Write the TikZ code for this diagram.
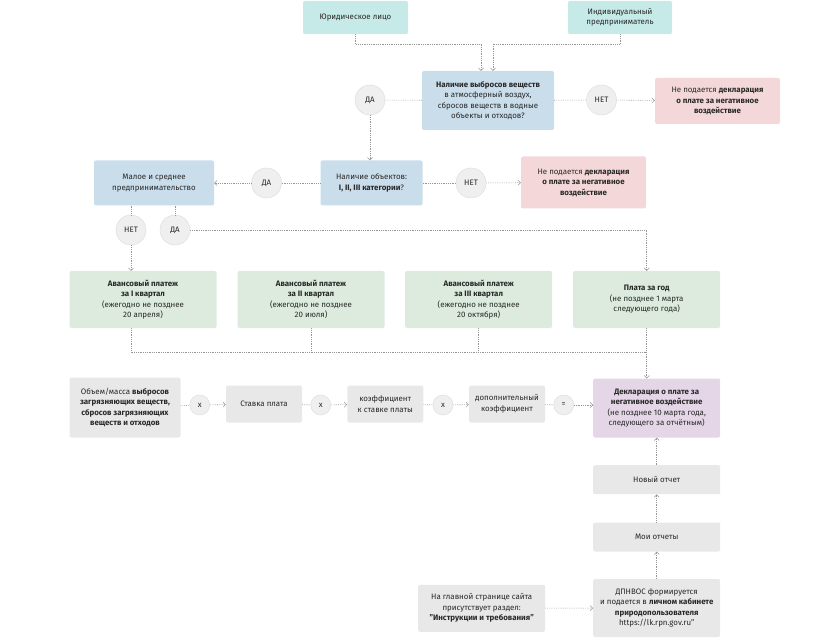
\documentclass[tikz,border=0pt]{standalone}
\usepackage{fontspec}
\setmainfont{Fira Sans}
\usetikzlibrary{arrows.meta}

\definecolor{tuerkis}{RGB}{198,234,231}
\definecolor{hellblau}{RGB}{201,221,235}
\definecolor{rosa}{RGB}{244,216,217}
\definecolor{hellgruen}{RGB}{220,235,222}
\definecolor{hellgrau}{RGB}{232,232,232}
\definecolor{flieder}{RGB}{228,214,231}
\definecolor{kreisfill}{RGB}{239,239,239}
\definecolor{kreisrand}{RGB}{222,222,222}
\definecolor{linienfarbe}{RGB}{150,150,150}
\definecolor{schrift}{RGB}{40,40,40}

\tikzset{
    kasten/.style={rounded corners=2pt, align=center, inner sep=2pt, text=schrift,
        font=\fontsize{7.9}{10.5}\selectfont},
    kreis/.style={circle, fill=kreisfill, draw=kreisrand, line width=0.5pt, minimum size=30pt,
        inner sep=0pt, text=schrift, font=\fontsize{7.9}{9}\selectfont},
    kleinkreis/.style={kreis, minimum size=20pt},
    linie/.style={draw=linienfarbe, line width=0.6pt, dash pattern=on 0.7pt off 1.1pt},
    pfeil/.style={linie, -{Straight Barb[length=2.5pt, width=5pt, line width=0.5pt]}}
}

\begin{document}
\begin{tikzpicture}[x=1pt, y=-1pt]
    \useasboundingbox (0,0) rectangle (825,639);
    \path node[kasten, fill=tuerkis, minimum width=105pt, minimum height=33pt] (jur) at (355.5,17.5) {Юридическое лицо}
        node[kasten, fill=tuerkis, minimum width=104pt, minimum height=33pt] (ip) at (620,17.5) {Индивидуальный\\предприниматель}
        node[kasten, fill=hellblau, minimum width=132pt, minimum height=59pt] (vybros) at (488,100.5) {\textbf{Наличие выбросов веществ}\\в атмосферный воздух,\\сбросов веществ в водные\\объекты и отходов?}
        node[kreis] (da1) at (370,100) {ДА}
        node[kreis] (net1) at (601.5,100) {НЕТ}
        node[kasten, fill=rosa, minimum width=125pt, minimum height=46pt] (ne1) at (717.5,101) {Не подается \textbf{декларация}\\\textbf{о плате за негативное}\\\textbf{воздействие}}
        node[kasten, fill=hellblau, minimum width=120pt, minimum height=45pt] (msp) at (154,183) {Малое и среднее\\предпринимательство}
        node[kreis] (da2) at (266.5,183) {ДА}
        node[kasten, fill=hellblau, minimum width=102pt, minimum height=45pt] (obj) at (371.5,183) {Наличие объектов:\\\textbf{I, II, III категории}?}
        node[kreis] (net2) at (471,183) {НЕТ}
        node[kasten, fill=rosa, minimum width=125pt, minimum height=52pt] (ne2) at (583.5,182.5) {Не подается \textbf{декларация}\\\textbf{о плате за негативное}\\\textbf{воздействие}}
        node[kreis] (net3) at (131,230) {НЕТ}
        node[kreis] (da3) at (175,230) {ДА};
    \path node[kasten, fill=hellgruen, minimum width=147pt, minimum height=57pt] (av1) at (143,299.5) {\textbf{Авансовый платеж}\\\textbf{за I квартал}\\(ежегодно не позднее\\20 апреля)}
        node[kasten, fill=hellgruen, minimum width=147pt, minimum height=57pt] (av2) at (311,299.5) {\textbf{Авансовый платеж}\\\textbf{за II квартал}\\(ежегодно не позднее\\20 июля)}
        node[kasten, fill=hellgruen, minimum width=147pt, minimum height=57pt] (av3) at (478.7,299.5) {\textbf{Авансовый платеж}\\\textbf{за III квартал}\\(ежегодно не позднее\\20 октября)}
        node[kasten, fill=hellgruen, minimum width=147pt, minimum height=57pt] (god) at (646.7,299.5) {\textbf{Плата за год}\\(не позднее 1 марта\\следующего года)}
        coordinate (sbor) at (646.7,352);
    \path node[kasten, fill=hellgrau, minimum width=111pt, minimum height=60pt] (obem) at (125,407.5) {Объем/масса \textbf{выбросов}\\\textbf{загрязняющих веществ,}\\\textbf{сбросов загрязняющих}\\\textbf{веществ и отходов}}
        node[kleinkreis] (x1) at (199.7,405) {x}
        node[kasten, fill=hellgrau, minimum width=76pt, minimum height=37pt] (stavka) at (264,404) {Ставка плата}
        node[kleinkreis] (x2) at (320.7,405) {x}
        node[kasten, fill=hellgrau, minimum width=76pt, minimum height=37pt] (koef) at (385.3,404) {коэффициент\\к ставке платы}
        node[kleinkreis] (x3) at (443,405) {x}
        node[kasten, fill=hellgrau, minimum width=76pt, minimum height=37pt] (dop) at (507,404) {дополнительный\\коэффициент}
        node[kleinkreis] (ravno) at (563.7,405) {=}
        node[kasten, fill=flieder, minimum width=127pt, minimum height=59pt] (dekl) at (656.7,408) {\textbf{Декларация о плате за}\\\textbf{негативное воздействие}\\(не позднее 10 марта года,\\следующего за отчётным)}
        node[kasten, fill=hellgrau, minimum width=127pt, minimum height=29pt] (novyi) at (656.7,479.7) {Новый отчет}
        node[kasten, fill=hellgrau, minimum width=127pt, minimum height=29pt] (moi) at (656.7,537) {Мои отчеты}
        node[kasten, fill=hellgrau, minimum width=127pt, minimum height=58pt] (dpnvos) at (656.7,608) {ДПНВОС формируется\\и подается в \textbf{личном кабинете}\\\textbf{природопользователя}\\https://lk.rpn.gov.ru"}
        node[kasten, fill=hellgrau, minimum width=127pt, minimum height=47pt] (glav) at (481.7,608.3) {На главной странице сайта\\присутствует раздел:\\\textbf{"Инструкции и требования"}};
    \draw[pfeil] (jur.south) -- ++(0,10) -| ([xshift=-7pt]vybros.north);
    \draw[pfeil] (ip.south) -- ++(0,10) -| ([xshift=5pt]vybros.north);
    \draw[linie] (vybros) -- (da1);
    \draw[pfeil] (da1) -- (da1 |- obj.north);
    \draw[linie] (vybros) -- (net1);
    \draw[pfeil] (net1) -- (ne1);
    \draw[linie] (obj) -- (da2);
    \draw[pfeil] (da2) -- (msp);
    \draw[linie] (obj) -- (net2);
    \draw[pfeil] (net2) -- (ne2);
    \draw[linie] (msp.south -| net3) -- (net3);
    \draw[linie] (msp.south -| da3) -- (da3);
    \draw[pfeil] (net3) -- (net3 |- av1.north);
    \draw[pfeil] (da3) -| (god.north);
    \draw[linie] (av1.south -| net3) |- (sbor);
    \draw[linie] (av2) -- (av2 |- sbor);
    \draw[linie] (av3) -- (av3 |- sbor);
    \draw[linie] (god) -- (sbor);
    \draw[pfeil] (sbor) -- (sbor |- dekl.north);
    \draw[linie] (obem) -- (x1);
    \draw[pfeil] (x1) -- (stavka);
    \draw[linie] (stavka) -- (x2);
    \draw[pfeil] (x2) -- (koef);
    \draw[linie] (koef) -- (x3);
    \draw[pfeil] (x3) -- (dop);
    \draw[linie] (dop) -- (ravno);
    \draw[pfeil] (ravno) -- (ravno -| dekl.west);
    \draw[pfeil] (dpnvos) -- (moi);
    \draw[pfeil] (moi) -- (novyi);
    \draw[pfeil] (novyi) -- (dekl);
    \draw[pfeil] (glav) -- (dpnvos);
\end{tikzpicture}
\end{document}
